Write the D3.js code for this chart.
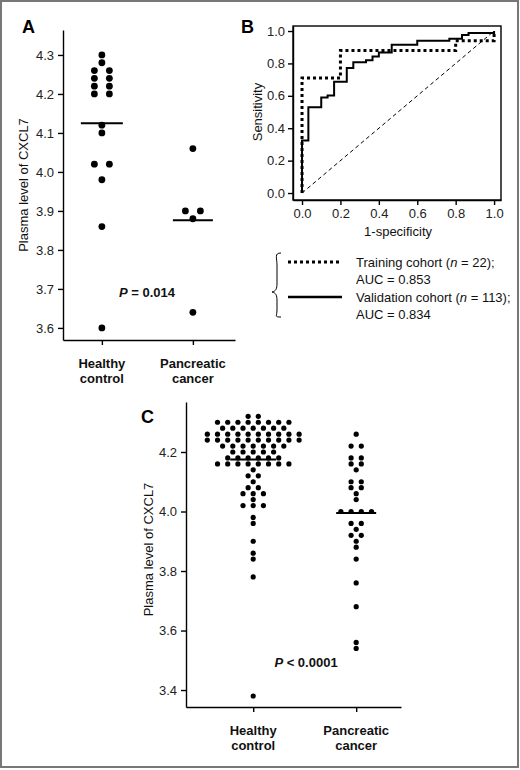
<!DOCTYPE html>
<html>
<head>
<meta charset="utf-8">
<script src="https://cdn.jsdelivr.net/npm/d3@7"></script>
<style>
  body { margin: 0; background: #fff; }
  svg { font-family: "Liberation Sans", Arial, sans-serif; }
  .tick text { font-size: 13px; fill: #222; }
  .domain, .tick line { stroke: #000; stroke-width: 1.4; }
</style>
</head>
<body>
<script>
// ---- data ----
const categories = ["Healthy control", "Pancreatic cancer"];

// panel A (training cohort)
const healthyA = [4.30, 4.28, 4.26, 4.26, 4.24, 4.24, 4.22, 4.22, 4.20, 4.20, 4.12, 4.10, 4.02, 4.02, 3.98, 3.86, 3.60];
const cancerA = [4.06, 3.90, 3.90, 3.88, 3.64];
const ticksA = [3.6, 3.7, 3.8, 3.9, 4.0, 4.1, 4.2, 4.3];
const pTextA = "= 0.014";

// panel C (validation cohort)
const healthyC = [
  4.32, 4.32,
  4.30, 4.30, 4.30, 4.30, 4.30, 4.30, 4.30, 4.30,
  4.28, 4.28, 4.28, 4.28, 4.28, 4.28, 4.28,
  4.26, 4.26, 4.26, 4.26, 4.26, 4.26, 4.26, 4.26, 4.26, 4.26,
  4.24, 4.24, 4.24, 4.24, 4.24, 4.24, 4.24, 4.24, 4.24, 4.24,
  4.22, 4.22, 4.22, 4.22, 4.22, 4.22, 4.22,
  4.20, 4.20, 4.20, 4.20, 4.20,
  4.18, 4.18, 4.18, 4.18, 4.18, 4.18,
  4.16, 4.16, 4.16, 4.16, 4.16, 4.16, 4.16, 4.16,
  4.14, 4.12, 4.12, 4.10, 4.08, 4.08, 4.06, 4.06, 4.06, 4.04,
  4.02, 4.02, 4.02, 3.98, 3.96, 3.90, 3.86, 3.84, 3.78, 3.38
];
const cancerC = [
  4.26, 4.22, 4.22, 4.18, 4.18, 4.16, 4.16, 4.14, 4.10, 4.10, 4.08, 4.08,
  4.06, 4.04, 4.00, 4.00, 4.00, 4.00, 3.96, 3.96, 3.94, 3.92, 3.92, 3.90,
  3.88, 3.84, 3.76, 3.68, 3.56, 3.54
];
const ticksC = [3.4, 3.6, 3.8, 4.0, 4.2];
const pTextC = "< 0.0001";

// panel B (ROC), corner points, vertical step first
const trainFpr = [0, 0.2, 0.8, 1, 1];
const trainTpr = [0, 0.71, 0.88, 0.94, 1];
const validFpr = [0, 0.033, 0.1, 0.133, 0.167, 0.233, 0.267, 0.333, 0.367, 0.4, 0.467, 0.6, 0.767, 0.833, 0.867, 1, 1];
const validTpr = [0, 0.325, 0.530, 0.590, 0.602, 0.687, 0.771, 0.807, 0.819, 0.843, 0.867, 0.916, 0.940, 0.952, 0.976, 0.988, 1];
const rocTicks = [0, 0.2, 0.4, 0.6, 0.8, 1.0];
const legendLabels = [
  ["Training cohort (", "n", " = 22);", "AUC = 0.853"],
  ["Validation cohort (", "n", " = 113);", "AUC = 0.834"]
];

const W = 520, H = 770;

const svg = d3.select("body").append("svg")
  .attr("width", W)
  .attr("height", H);

svg.append("rect")
  .attr("x", 1).attr("y", 1)
  .attr("width", W - 3).attr("height", H - 4)
  .attr("fill", "none")
  .attr("stroke", "#777")
  .attr("stroke-width", 2);

// put dots of equal value side by side
function swarm(vals, step) {
  const groups = d3.group(vals, v => v.toFixed(2));
  const out = [];
  groups.forEach(g => {
    g.forEach((v, i) => out.push({v: v, off: (i - (g.length - 1) / 2) * step}));
  });
  return out;
}

function dotPanel(opt) {
  const g = svg.append("g");

  const y = d3.scaleLinear().domain(opt.yDomain).range([opt.bottom, opt.top]);
  const x = d3.scalePoint().domain(categories)
    .range([opt.left, opt.right]).padding(opt.pad).align(opt.align);

  g.append("g")
    .attr("transform", `translate(${opt.left},0)`)
    .call(d3.axisLeft(y).tickValues(opt.ticks).tickFormat(d3.format(".1f")).tickSize(5).tickSizeOuter(0).tickPadding(4));

  const xa = g.append("g")
    .attr("transform", `translate(0,${opt.bottom})`)
    .call(d3.axisBottom(x).tickSize(5).tickSizeOuter(0).tickFormat(""));

  categories.forEach(c => {
    const words = c.split(" ");
    const t = g.append("text")
      .attr("x", x(c))
      .attr("y", opt.bottom + 28)
      .attr("text-anchor", "middle")
      .attr("font-size", 13)
      .attr("font-weight", "bold")
      .attr("fill", "#111");
    words.forEach((w, i) => t.append("tspan").attr("x", x(c)).attr("dy", i ? 15 : 0).text(w));
  });

  g.append("text")
    .attr("transform", `translate(${opt.labelX},${(opt.top + opt.bottom) / 2 + opt.labelShift}) rotate(-90)`)
    .attr("text-anchor", "middle")
    .attr("font-size", 13)
    .attr("fill", "#111")
    .text("Plasma level of CXCL7");

  [opt.healthy, opt.cancer].forEach((vals, k) => {
    const cx = x(categories[k]);
    g.selectAll(null)
      .data(swarm(vals, opt.step))
      .enter()
      .append("circle")
        .attr("cx", d => cx + d.off)
        .attr("cy", d => y(d.v))
        .attr("r", opt.r)
        .attr("fill", "#000");

    const m = d3.mean(vals);
    g.append("line")
      .attr("x1", cx - opt.meanHalf[k]).attr("x2", cx + opt.meanHalf[k])
      .attr("y1", y(m)).attr("y2", y(m))
      .attr("stroke", "#000")
      .attr("stroke-width", 2);
  });

  const p = g.append("text")
    .attr("x", opt.pX)
    .attr("y", y(opt.pY) + 4)
    .attr("text-anchor", "middle")
    .attr("font-size", 13)
    .attr("font-weight", "bold")
    .attr("fill", "#111");
  p.append("tspan").attr("font-style", "italic").text("P");
  p.append("tspan").text(" " + opt.pText);

  g.append("text")
    .attr("x", opt.letterX).attr("y", opt.letterY)
    .attr("font-size", 18).attr("font-weight", "bold")
    .text(opt.letter);
}

// panel A
dotPanel({
  healthy: healthyA, cancer: cancerA, ticks: ticksA,
  yDomain: [3.569, 4.364], top: 30, bottom: 340, left: 63, right: 235,
  pad: 0.445, align: 0.48, step: 15, r: 3.4, meanHalf: [21, 20],
  labelX: 28, labelShift: 0, pX: 147, pY: 3.69, pText: pTextA,
  letter: "A", letterX: 22, letterY: 33
});

// panel C
dotPanel({
  healthy: healthyC, cancer: cancerC, ticks: ticksC,
  yDomain: [3.343, 4.368], top: 402, bottom: 707, left: 186, right: 401,
  pad: 0.544, align: 0.6, step: 10.2, r: 2.6, meanHalf: [23, 20],
  labelX: 153, labelShift: -5, pX: 306, pY: 3.49, pText: pTextC,
  letter: "C", letterX: 141, letterY: 423
});

// panel B: ROC
const bx = d3.scaleLinear().domain([-0.047, 1.036]).range([293, 501]);
const by = d3.scaleLinear().domain([-0.043, 1.031]).range([200, 26]);
const gB = svg.append("g");

gB.append("rect")
  .attr("x", bx(-0.047)).attr("y", by(1.031))
  .attr("width", bx(1.036) - bx(-0.047))
  .attr("height", by(-0.043) - by(1.031))
  .attr("fill", "none").attr("stroke", "#000").attr("stroke-width", 1.4);

gB.append("g")
  .attr("transform", `translate(${bx(-0.047)},0)`)
  .call(d3.axisLeft(by).tickValues(rocTicks).tickFormat(d3.format(".1f")).tickSize(5).tickSizeOuter(0).tickPadding(3));

gB.append("g")
  .attr("transform", `translate(0,${by(-0.043)})`)
  .call(d3.axisBottom(bx).tickValues(rocTicks).tickFormat(d3.format(".1f")).tickSize(5).tickSizeOuter(0).tickPadding(4));

gB.append("text")
  .attr("x", bx(0.5)).attr("y", 236)
  .attr("text-anchor", "middle").attr("font-size", 13).attr("fill", "#111")
  .text("1-specificity");

gB.append("text")
  .attr("transform", `translate(262,${by(0.5)}) rotate(-90)`)
  .attr("text-anchor", "middle").attr("font-size", 13).attr("fill", "#111")
  .text("Sensitivity");

gB.append("line")
  .attr("x1", bx(0)).attr("y1", by(0))
  .attr("x2", bx(1)).attr("y2", by(1))
  .attr("stroke", "#000").attr("stroke-width", 1)
  .attr("stroke-dasharray", "4,3");

const roc = d3.line()
  .x(d => bx(d[0]))
  .y(d => by(d[1]))
  .curve(d3.curveStepBefore);

gB.append("path")
  .attr("d", roc(d3.zip(validFpr, validTpr)))
  .attr("fill", "none").attr("stroke", "#000").attr("stroke-width", 2);

gB.append("path")
  .attr("d", roc(d3.zip(trainFpr, trainTpr)))
  .attr("fill", "none").attr("stroke", "#000").attr("stroke-width", 3)
  .attr("stroke-dasharray", "3,3");

gB.append("text")
  .attr("x", 241).attr("y", 33)
  .attr("font-size", 18).attr("font-weight", "bold")
  .text("B");

// legend
const lg = svg.append("g");
lg.append("path")
  .attr("d", "M281,253 C274,253 277,258 277,265 L277,283 C277,289 276,291 272,292 C276,293 277,295 277,301 L277,310 C277,316 274,317 281,317")
  .attr("fill", "none").attr("stroke", "#000").attr("stroke-width", 1);

const legendY = [262, 297];
const legendStyle = [{w: 3, dash: "3,3"}, {w: 2.5, dash: null}];
legendLabels.forEach((lab, i) => {
  lg.append("line")
    .attr("x1", 288).attr("x2", 342)
    .attr("y1", legendY[i]).attr("y2", legendY[i])
    .attr("stroke", "#000")
    .attr("stroke-width", legendStyle[i].w)
    .attr("stroke-dasharray", legendStyle[i].dash);
  const t = lg.append("text")
    .attr("x", 356).attr("y", legendY[i] + 5)
    .attr("font-size", 13).attr("fill", "#111");
  t.append("tspan").text(lab[0]);
  t.append("tspan").attr("font-style", "italic").text(lab[1]);
  t.append("tspan").text(lab[2]);
  lg.append("text")
    .attr("x", 356).attr("y", legendY[i] + 22)
    .attr("font-size", 13).attr("fill", "#111")
    .text(lab[3]);
});
</script>
</body>
</html>
